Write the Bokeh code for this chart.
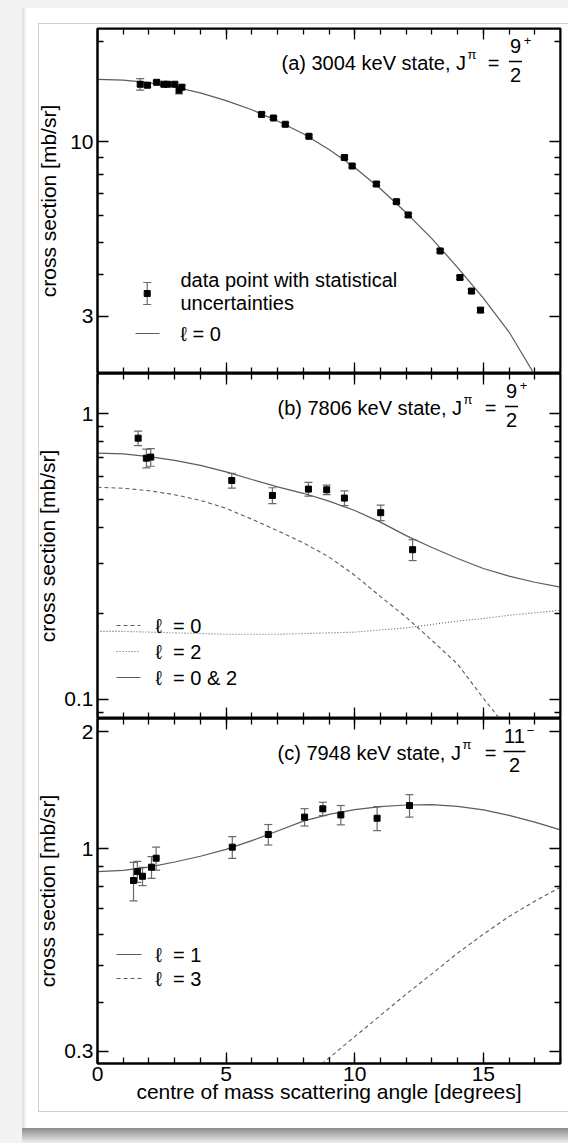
import math
from bokeh.plotting import figure
from bokeh.models import (Range1d, LinearAxis, LogAxis, FixedTicker, Label, Whisker,
                          ColumnDataSource, TeeHead, CustomJSTickFormatter, Column)
from bokeh.embed import file_html
from bokeh.resources import INLINE

# ---------------- data ----------------
# panel (a) 3004 keV state
angle_a = [1.66, 1.94, 2.30, 2.58, 2.72, 3.00, 3.17, 3.28, 6.38, 6.84, 7.30, 8.22,
           9.60, 9.90, 10.84, 11.62, 12.08, 13.32, 14.09, 14.54, 14.89]
xsec_a = [14.9, 14.8, 15.1, 14.9, 14.9, 14.9, 14.3, 14.6, 12.1, 11.8, 11.3, 10.4,
          8.98, 8.47, 7.48, 6.62, 6.04, 4.71, 3.92, 3.57, 3.13]
err_a = [0.6, 0.2, 0.15, 0.15, 0.15, 0.2, 0.35, 0.2, 0.12, 0.12, 0.11, 0.10,
         0.09, 0.09, 0.08, 0.07, 0.07, 0.05, 0.05, 0.05, 0.05]
curve_angle = [0, 1, 2, 3, 4, 5, 6, 7, 8, 9, 10, 11, 12, 13, 14, 15, 16, 17, 18]
fit_a_l0 = [15.4, 15.33, 15.06, 14.62, 14.04, 13.31, 12.49, 11.56, 10.59, 9.49,
            8.38, 7.24, 6.13, 5.13, 4.20, 3.40, 2.69, 2.0, 1.53]

# panel (b) 7806 keV state
angle_b = [1.58, 1.90, 2.07, 5.22, 6.80, 8.20, 8.91, 9.60, 11.01, 12.25]
xsec_b = [0.820, 0.698, 0.704, 0.583, 0.517, 0.544, 0.541, 0.506, 0.450, 0.334]
err_b = [0.048, 0.053, 0.050, 0.035, 0.033, 0.030, 0.021, 0.030, 0.028, 0.028]
fit_b_l0 = [0.552, 0.548, 0.537, 0.520, 0.497, 0.466, 0.427, 0.389, 0.353, 0.315,
            0.272, 0.229, 0.194, 0.161, 0.133, 0.101, 0.078, 0.058, 0.042]
fit_b_l2 = [0.173, 0.173, 0.172, 0.171, 0.170, 0.169, 0.169, 0.169, 0.170, 0.171,
            0.172, 0.175, 0.178, 0.183, 0.188, 0.192, 0.197, 0.201, 0.205]
fit_b_l02 = [0.727, 0.722, 0.707, 0.686, 0.659, 0.625, 0.588, 0.554, 0.526, 0.494,
             0.458, 0.417, 0.374, 0.340, 0.311, 0.287, 0.270, 0.257, 0.247]

# panel (c) 7948 keV state
angle_c = [1.40, 1.55, 1.75, 2.10, 2.28, 5.24, 6.64, 8.05, 8.76, 9.46, 10.87, 12.13]
xsec_c = [0.827, 0.872, 0.848, 0.895, 0.944, 1.008, 1.087, 1.205, 1.266, 1.221, 1.197, 1.291]
err_c = [0.094, 0.054, 0.046, 0.058, 0.064, 0.065, 0.066, 0.062, 0.050, 0.070, 0.085, 0.086]
fit_c_l1 = [0.872, 0.878, 0.895, 0.923, 0.955, 0.995, 1.048, 1.110, 1.177, 1.225,
            1.260, 1.282, 1.295, 1.298, 1.285, 1.258, 1.218, 1.170, 1.117]
angle_c_l3 = [8.5, 9, 10, 11, 12, 13, 14, 15, 16, 17, 18]
fit_c_l3 = [0.271, 0.288, 0.327, 0.371, 0.421, 0.475, 0.537, 0.601, 0.668, 0.731, 0.795]

x_major = [0, 5, 10, 15]
x_minor = list(range(0, 19))
ya_major, ya_minor = [3, 10], [2, 4, 5, 6, 7, 8, 9, 20]
yb_major, yb_minor = [0.1, 1], [0.09, 0.2, 0.3, 0.4, 0.5, 0.6, 0.7, 0.8, 0.9]
yc_major, yc_minor = [0.3, 1, 2], [0.4, 0.5, 0.6, 0.7, 0.8, 0.9]

# ---------------- styling ----------------
FONT = "Liberation Sans"
FS = "20px"         # legends
FS_TICK = "21px"    # tick labels
FS_AXIS = "21px"    # axis titles
FS_TITLE = "20px"   # panel titles
CURVE = "#5c5c5c"
ERR = "#6a6a6a"
FRAME_L, FRAME_R, FRAME_H = 97, 8, 345
FIG_W = 568
X_MAX = 18
FRAME_W = FIG_W - FRAME_L - FRAME_R


class Panel:
    def __init__(self, ylo, yhi, major, minor, top, bottom, xlabels, ylabel_standoff):
        self.lo, self.hi = math.log10(ylo), math.log10(yhi)
        p = figure(width=FIG_W, height=top + FRAME_H + bottom,
                   x_range=Range1d(0, X_MAX), y_range=Range1d(ylo, yhi),
                   y_axis_type="log", x_axis_location=None, y_axis_location=None,
                   min_border_left=FRAME_L, min_border_right=FRAME_R,
                   min_border_top=top, min_border_bottom=bottom,
                   output_backend="svg", toolbar_location=None)
        p.border_fill_color = None
        p.background_fill_color = "white"
        p.outline_line_color = "black"
        p.outline_line_width = 2
        p.xgrid.grid_line_color = None
        p.ygrid.grid_line_color = None

        yl = LogAxis(ticker=FixedTicker(ticks=major, minor_ticks=minor),
                     axis_label="cross section [mb/sr]")
        self.style_axis(yl, True)
        yl.axis_label_standoff = ylabel_standoff
        p.add_layout(yl, "left")
        yr = LogAxis(ticker=FixedTicker(ticks=major, minor_ticks=minor), fixed_location=X_MAX)
        self.style_axis(yr, False)
        p.add_layout(yr, "right")
        xt = LinearAxis(ticker=FixedTicker(ticks=x_major, minor_ticks=x_minor), fixed_location=yhi)
        self.style_axis(xt, False)
        p.add_layout(xt, "above")
        if xlabels:
            xb = LinearAxis(ticker=FixedTicker(ticks=x_major, minor_ticks=x_minor))
            self.style_axis(xb, True)
            xb.axis_label = "centre of mass scattering angle [degrees]"
            xb.major_label_standoff = 3
            xb.axis_label_standoff = -4
        else:
            xb = LinearAxis(ticker=FixedTicker(ticks=x_major, minor_ticks=x_minor), fixed_location=ylo)
            self.style_axis(xb, False)
        p.add_layout(xb, "below")
        self.p = p

    @staticmethod
    def style_axis(ax, labels):
        ax.axis_line_color = "black"
        ax.axis_line_width = 2
        ax.major_tick_line_color = "black"
        ax.major_tick_line_width = 1.3
        ax.minor_tick_line_color = "black"
        ax.minor_tick_line_width = 1.3
        ax.major_tick_in = 11
        ax.major_tick_out = 0
        ax.minor_tick_in = 6
        ax.minor_tick_out = 0
        if labels:
            ax.formatter = CustomJSTickFormatter(code="return tick.toString();")
            ax.major_label_text_font = FONT
            ax.major_label_text_font_size = FS_TICK
            ax.major_label_text_color = "black"
            ax.major_label_standoff = 4
            ax.axis_label_text_font = FONT
            ax.axis_label_text_font_size = FS_AXIS
            ax.axis_label_text_font_style = "normal"
            ax.axis_label_text_color = "black"
        else:
            ax.formatter = CustomJSTickFormatter(code="return '';")
            ax.major_label_text_font_size = "0px"
            ax.major_label_standoff = 0

    # pixel helpers: x in window pixels, y offset below the frame top
    def xd(self, px):
        return (px - FRAME_L) / FRAME_W * X_MAX

    def yd(self, off):
        return 10 ** (self.hi - off / FRAME_H * (self.hi - self.lo))

    def text(self, px, off, txt, size=FS, align="left"):
        self.p.add_layout(Label(x=self.xd(px), y=self.yd(off), text=txt,
                                text_font=FONT, text_font_size=size,
                                text_align=align, text_baseline="middle",
                                text_color="black"))

    def hline(self, x0, x1, off, dash="solid", color=CURVE, width=1.2):
        self.p.segment(x0=[self.xd(x0)], y0=[self.yd(off)], x1=[self.xd(x1)],
                       y1=[self.yd(off)], line_color=color, line_width=width,
                       line_dash=dash)

    def data(self, ang, val, err):
        src = ColumnDataSource(dict(x=ang, y=val,
                                    lo=[v - e for v, e in zip(val, err)],
                                    hi=[v + e for v, e in zip(val, err)]))
        self.p.add_layout(Whisker(source=src, base="x", upper="hi", lower="lo",
                                  line_color=ERR, line_width=1.2,
                                  upper_head=TeeHead(size=8, line_color=ERR, line_width=1.2),
                                  lower_head=TeeHead(size=8, line_color=ERR, line_width=1.2)))
        self.p.scatter("x", "y", source=src, marker="square", size=6,
                       fill_color="black", line_color="black")

    def title(self, main, start, pi_x, eq_x, num, sup, den, frac_x, sup_x, bar_half=6.5):
        self.text(start, 34, main, size=FS_TITLE)
        self.text(pi_x, 26, "\u03c0", size="13px")
        self.text(eq_x, 34, "=", size=FS_TITLE, align="center")
        self.text(frac_x, 17.5, num, size=FS_TITLE, align="center")
        self.text(sup_x, 12, sup, size="13px", align="center")
        self.hline(frac_x - bar_half, frac_x + bar_half, 33, color="black", width=1.3)
        self.text(frac_x, 46, den, size=FS_TITLE, align="center")


# ---------------- panel (a) ----------------
A = Panel(2.02, 21.9, ya_major, ya_minor, 28, 0, False, 7)
A.p.line(curve_angle, fit_a_l0, line_color=CURVE, line_width=1.2)
A.data(angle_a, xsec_a, err_a)
A.title("(a) 3004 keV state, J", 281, 467, 493, "9", "+", "2", 515, 527)
# legend
src_leg = ColumnDataSource(dict(x=[A.xd(146.7)], y=[A.yd(265)], lo=[A.yd(276)], hi=[A.yd(254)]))
A.p.add_layout(Whisker(source=src_leg, base="x", upper="hi", lower="lo", line_color=ERR,
                       line_width=1.2,
                       upper_head=TeeHead(size=8, line_color=ERR, line_width=1.2),
                       lower_head=TeeHead(size=8, line_color=ERR, line_width=1.2)))
A.p.scatter("x", "y", source=src_leg, marker="square", size=6, fill_color="black",
            line_color="black")
A.text(180, 251, "data point with statistical")
A.text(180, 274.7, "uncertainties")
A.hline(135, 159, 305)
A.text(180, 305, "\u2113 = 0")

# ---------------- panel (b) ----------------
B = Panel(0.0858, 1.38, yb_major, yb_minor, 0, 0, False, 2)
B.p.line(curve_angle, fit_b_l0, line_color=CURVE, line_width=1.1, line_dash="4 3")
B.p.line(curve_angle, fit_b_l2, line_color=CURVE, line_width=1.1, line_dash="1 2")
B.p.line(curve_angle, fit_b_l02, line_color=CURVE, line_width=1.2)
B.data(angle_b, xsec_b, err_b)
B.title("(b) 7806 keV state, J", 277, 463, 490, "9", "+", "2", 511, 523)
B.hline(116, 140, 252, dash="4 3")
B.text(155, 252, "\u2113\u00a0\u00a0= 0")
B.hline(116, 140, 278, dash="1 2")
B.text(155, 278, "\u2113\u00a0\u00a0= 2")
B.hline(116, 140, 304)
B.text(155, 304, "\u2113\u00a0\u00a0= 0 & 2")

# ---------------- panel (c) ----------------
C = Panel(0.2788, 2.165, yc_major, yc_minor, 0, 62, True, 2)
C.p.line(curve_angle, fit_c_l1, line_color=CURVE, line_width=1.2)
C.p.line(angle_c_l3, fit_c_l3, line_color=CURVE, line_width=1.1, line_dash="4 3")
C.data(angle_c, xsec_c, err_c)
C.title("(c) 7948 keV state, J", 277, 462, 490, "11", "\u2212", "2", 514, 530, bar_half=11)
C.hline(116, 141, 236)
C.text(155, 236, "\u2113\u00a0\u00a0= 1")
C.hline(116, 141, 260, dash="4 3")
C.text(155, 260, "\u2113\u00a0\u00a0= 3")

bg = ("linear-gradient(#cfcfcf,#cfcfcf) 38px 23px/530px 1px no-repeat, "
      "linear-gradient(#cfcfcf,#cfcfcf) 38px 1111px/530px 1px no-repeat, "
      "linear-gradient(#cfcfcf,#cfcfcf) 38px 23px/1px 1089px no-repeat, "
      "linear-gradient(to right,#dcdcdc,#ffffff) 22px 8px/5px 1120px no-repeat, "
      "linear-gradient(#ffffff,#ffffff) 22px 8px/546px 1120px no-repeat, "
      "linear-gradient(to bottom,#8c8c8c,#b8b8b8 45%,#eeeeee) 22px 1128px/546px 15px no-repeat, "
      "#f3f3f3")

layout = Column(children=[A.p, B.p, C.p], spacing=0, width=568, height=1143,
                styles={"background": bg})

open("out.html", "w").write(file_html(layout, INLINE))
